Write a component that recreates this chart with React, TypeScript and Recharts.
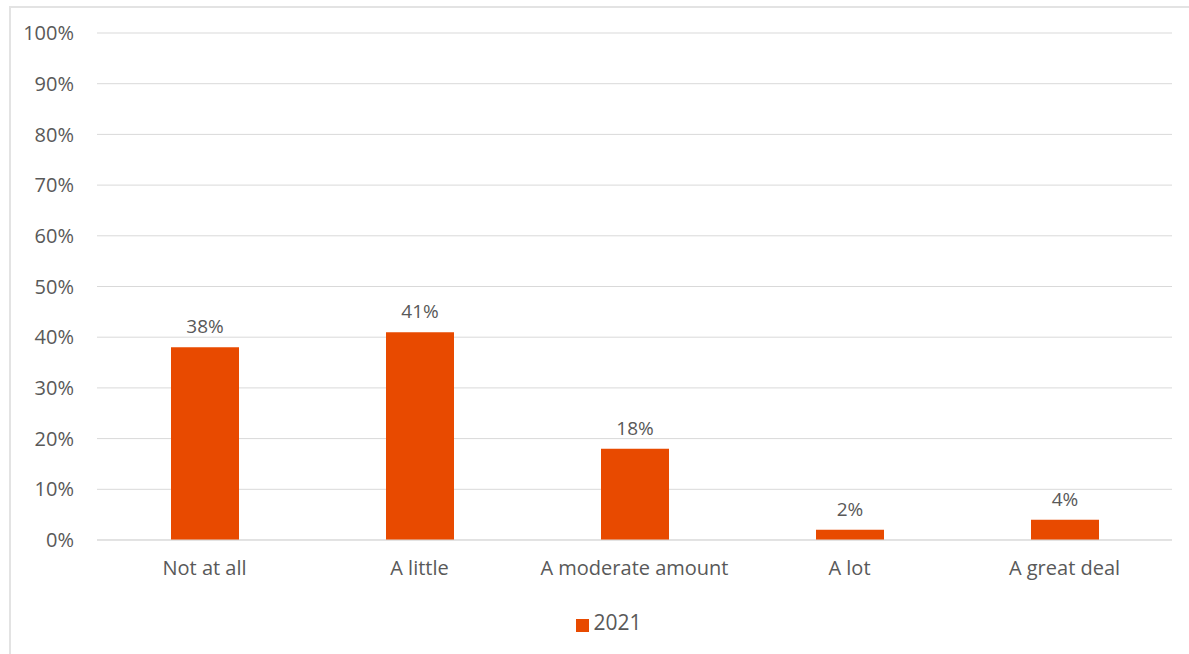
import React from 'react'
import { Bar, BarChart, CartesianGrid, LabelList, Legend, XAxis, YAxis } from 'recharts'

const categories = ['Not at all', 'A little', 'A moderate amount', 'A lot', 'A great deal']
const values2021 = [38, 41, 18, 2, 4]
const yTicks = [0, 10, 20, 30, 40, 50, 60, 70, 80, 90, 100]

const data = categories.map((name, i) => ({ name, y2021: values2021[i] }))

const textColor = '#595959'
const gridColor = '#d9d9d9'
const barColor = '#e84a00'

const App: React.FC = () => {
  return (
    <div style={{ position: 'absolute', left: 0, top: 0, width: 1189, height: 654, background: '#fff', fontFamily: '"Open Sans", "Liberation Sans", sans-serif' }}>
      <div
        style={{
          position: 'absolute',
          left: 9,
          top: 6,
          right: 0,
          bottom: 0,
          borderLeft: '2px solid #e3e3e3',
          borderTop: '2px solid #e3e3e3',
        }}
      />
      <BarChart
        width={1189}
        height={654}
        data={data}
        margin={{ top: 33, right: 17, left: 0, bottom: 20 }}
        style={{ position: 'absolute', left: 0, top: 0 }}
      >
        <CartesianGrid vertical={false} stroke={gridColor} strokeWidth={1} />
        <XAxis
          dataKey='name'
          stroke={gridColor}
          tickLine={false}
          tickSize={0}
          tickMargin={21}
          height={70}
          interval={0}
          tick={{ fill: textColor, fontSize: 20 }}
        />
        <YAxis
          domain={[0, 100]}
          ticks={yTicks}
          width={97}
          axisLine={false}
          tickLine={false}
          tickSize={0}
          tickMargin={23}
          tick={{ fill: textColor, fontSize: 20 }}
          tickFormatter={(v) => `${v}%`}
        />
        <Legend
          verticalAlign='bottom'
          height={24}
          iconType='square'
          iconSize={13}
          formatter={(value) => <span style={{ color: textColor, fontSize: 21 }}>{value}</span>}
          wrapperStyle={{ lineHeight: '24px', left: 28 }}
        />
        <Bar dataKey='y2021' name='2021' fill={barColor} barSize={68} isAnimationActive={false}>
          <LabelList dataKey='y2021' position='top' offset={14} fill={textColor} fontSize={19} formatter={(v: any) => `${v}%`} />
        </Bar>
      </BarChart>
    </div>
  )
}

export default App
